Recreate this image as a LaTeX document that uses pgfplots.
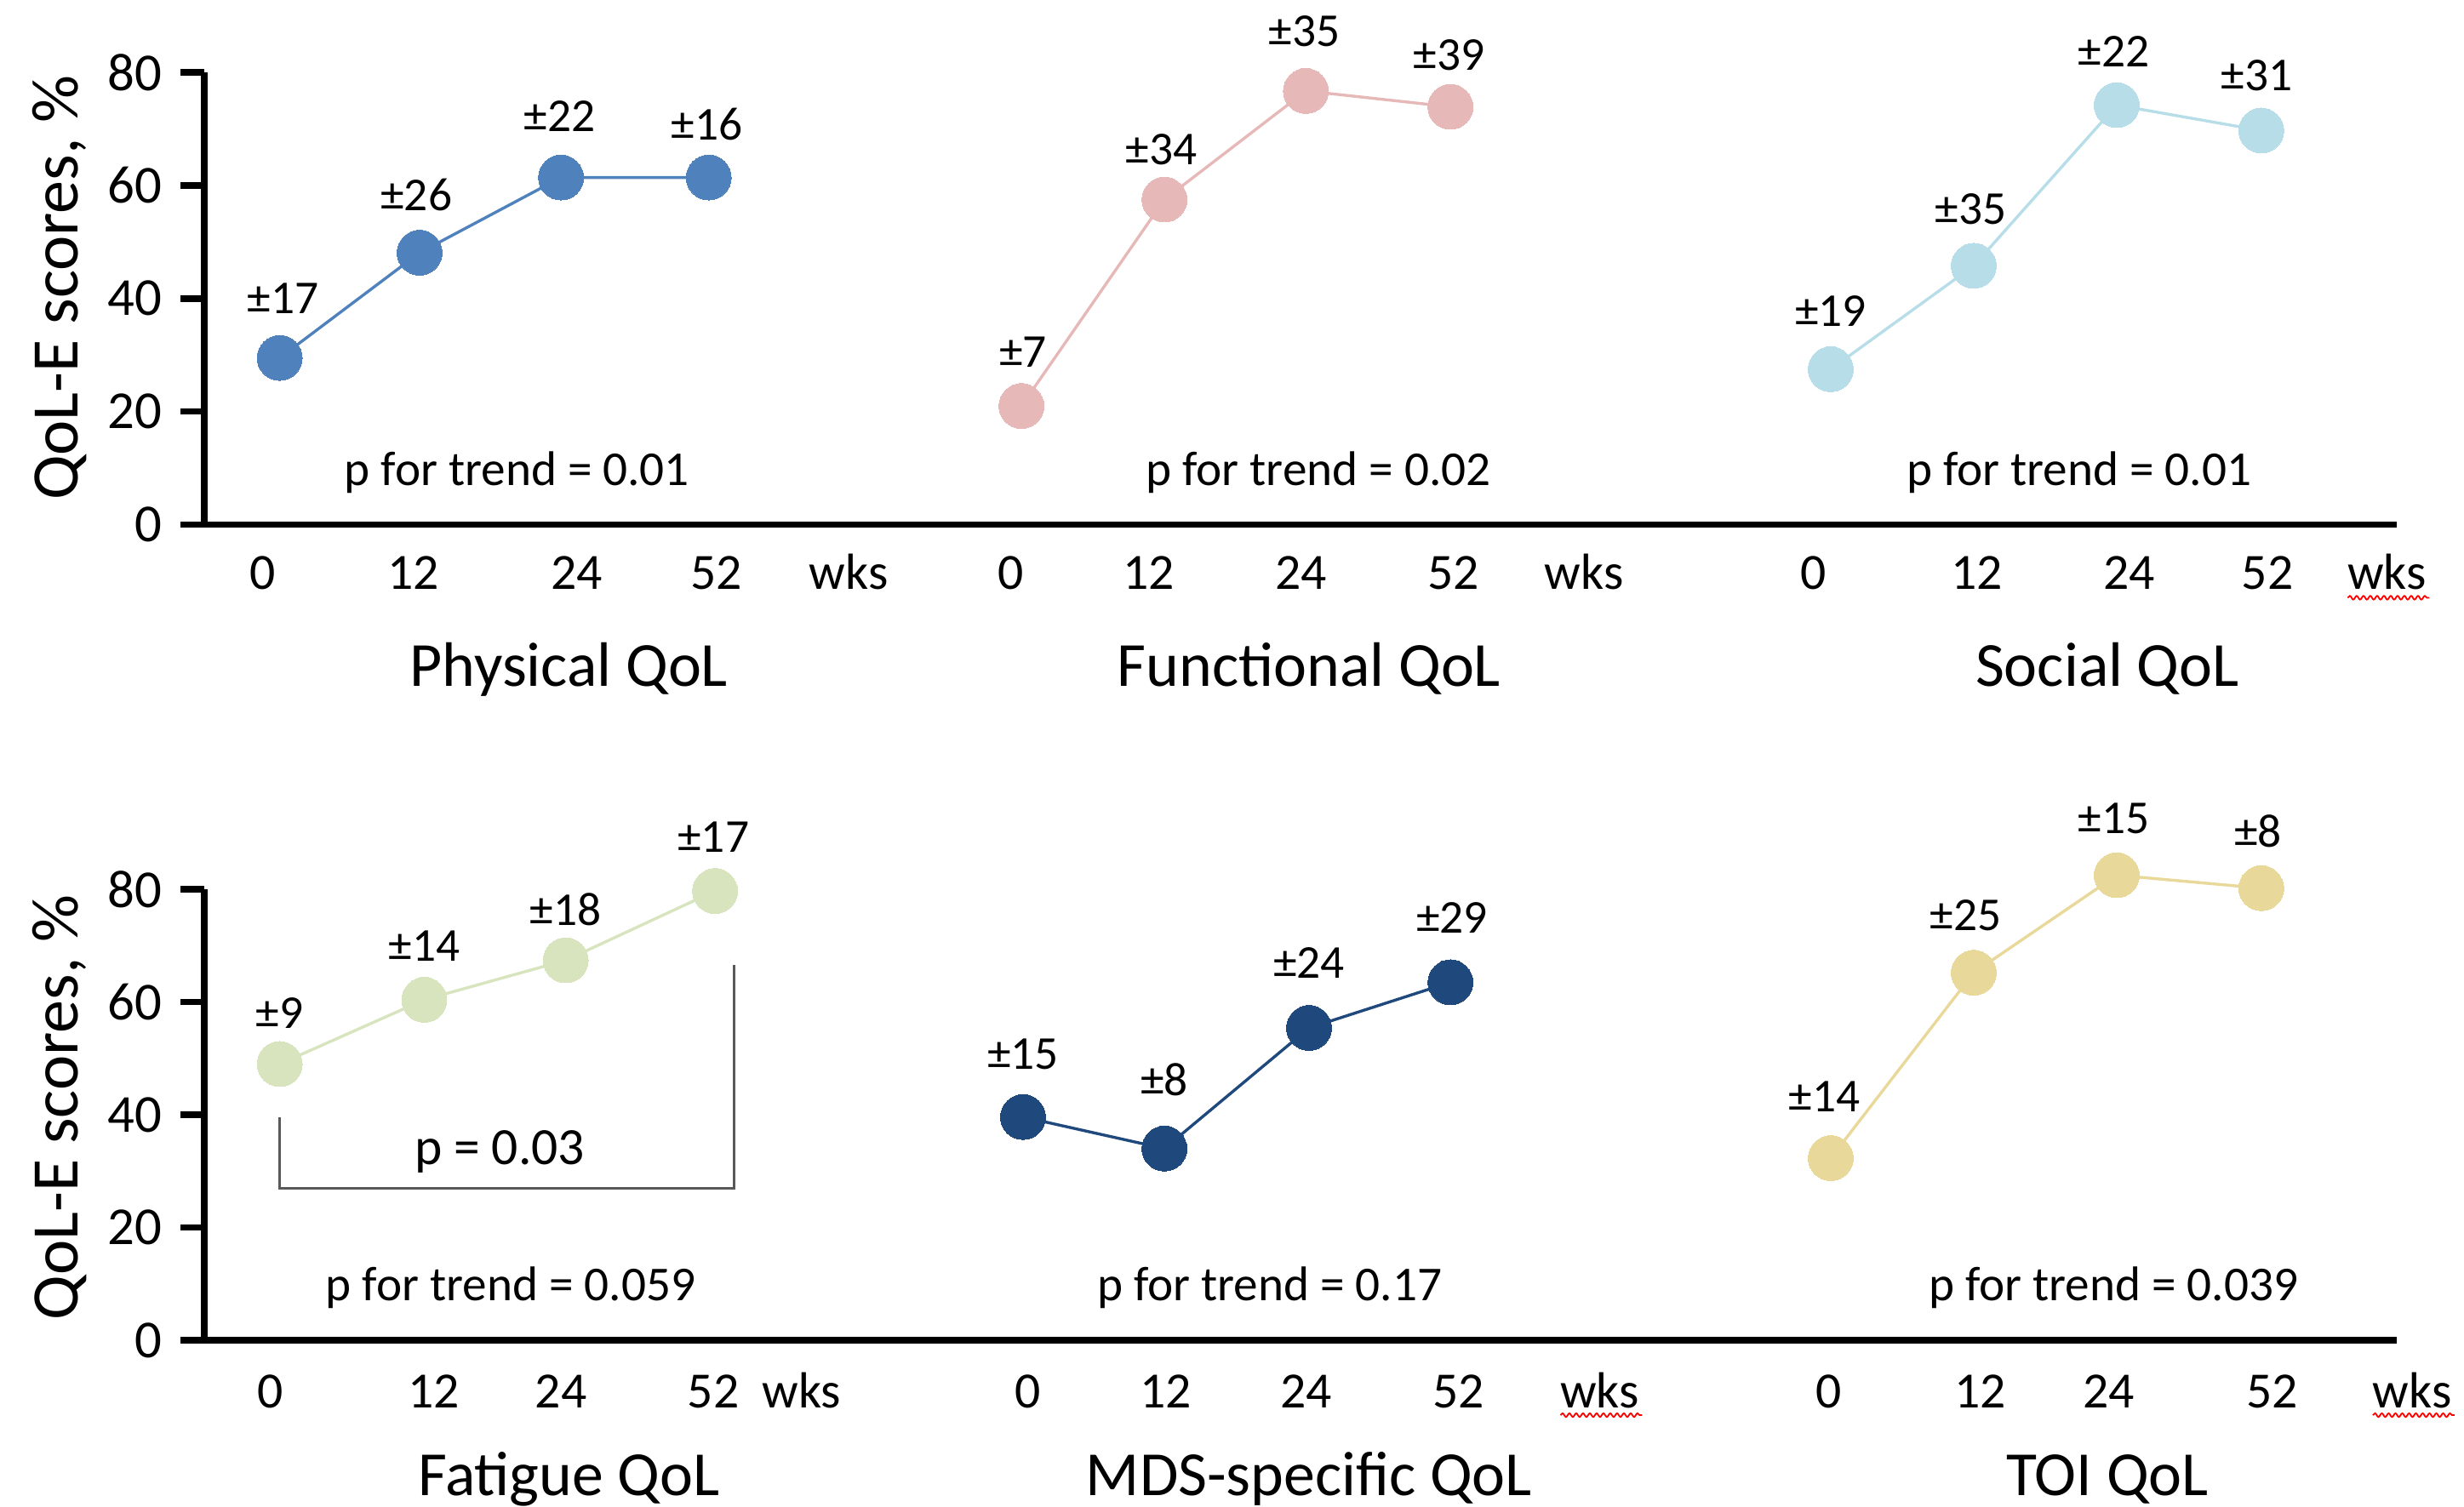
\documentclass[border=0pt]{standalone}
\usepackage{pgfplots}
\pgfplotsset{compat=1.18}
\usepackage{fontspec}
\setmainfont{Carlito}
\usetikzlibrary{decorations.pathmorphing}
\definecolor{cPhys}{RGB}{79,129,189}
\definecolor{cFunc}{RGB}{230,185,184}
\definecolor{cSoc}{RGB}{183,222,232}
\definecolor{cFat}{RGB}{215,228,189}
\definecolor{cMDS}{RGB}{31,73,125}
\definecolor{cTOI}{RGB}{232,216,154}
\definecolor{cBr}{RGB}{89,89,89}
\pgfplotsset{
  rowaxis/.style={
    scale only axis, width=418.5pt,
    xmin=130, xmax=1525, ymin=0, ymax=80,
    axis x line*=bottom, axis y line*=left,
    axis line style={line width=1.2pt,-,black},
    xtick=\empty, ytick={0,20,40,60,80},
    tick align=outside, major tick length=4.5pt,
    tick style={line width=1.2pt,black},
    /pgf/number format/assume math mode=true,
    yticklabel style={font=\fontsize{10.2}{12}\selectfont, black},
    clip=false,
  },
  ser/.style={color=#1, line width=0.55pt, mark=*, mark size=4.3pt, mark options={fill=#1, draw=#1, line width=0pt}},
}
\begin{document}
\begin{tikzpicture}
\path[use as bounding box] (0,0) rectangle (470.4pt,-287.7pt);
% ---------------- top row ----------------
\begin{axis}[rowaxis, at={(39pt,-100.2pt)}, anchor=south west, height=86.4pt]
\addplot[ser=cPhys] coordinates {(178,29.5) (267,48.1) (357,61.4) (451,61.4)};
\addplot[ser=cFunc] coordinates {(650,21.0) (741,57.5) (831,76.7) (923,73.9)};
\addplot[ser=cSoc] coordinates {(1165,27.5) (1256,45.8) (1347,74.2) (1439,69.7)};
\begin{scope}[every node/.style={font=\fontsize{9}{10}\selectfont, anchor=center}]
\node at (axis cs:180,40.0) {±17};
\node at (axis cs:265,58.3) {±26};
\node at (axis cs:356,72.2) {±22};
\node at (axis cs:450,70.8) {±16};
\node at (axis cs:651,30.6) {±7};
\node at (axis cs:739,66.4) {±34};
\node at (axis cs:830,87.2) {±35};
\node at (axis cs:922,83.1) {±39};
\node at (axis cs:1165,37.8) {±19};
\node at (axis cs:1254,55.8) {±35};
\node at (axis cs:1345,83.6) {±22};
\node at (axis cs:1436,79.4) {±31};
\end{scope}
\begin{scope}[every node/.style={font=\fontsize{9.3}{10}\selectfont, anchor=base}]
\node at (axis cs:329,6.9) {p for trend = 0.01};
\node at (axis cs:839,6.9) {p for trend = 0.02};
\node at (axis cs:1323,6.9) {p for trend = 0.01};
\end{scope}
\begin{scope}[every node/.style={font=\fontsize{9.7}{11}\selectfont, anchor=base}]
\node at (axis cs:167,-11.4) {0};
\node at (axis cs:263,-11.4) {12};
\node at (axis cs:367,-11.4) {24};
\node at (axis cs:456,-11.4) {52};
\node at (axis cs:540,-11.4) {wks};
\node at (axis cs:643,-11.4) {0};
\node at (axis cs:731,-11.4) {12};
\node at (axis cs:828,-11.4) {24};
\node at (axis cs:925,-11.4) {52};
\node at (axis cs:1008,-11.4) {wks};
\node at (axis cs:1154,-11.4) {0};
\node at (axis cs:1258,-11.4) {12};
\node at (axis cs:1355,-11.4) {24};
\node at (axis cs:1443,-11.4) {52};
\node at (axis cs:1519,-11.4) {wks};
\end{scope}
\draw[red, line width=0.3pt, decorate, decoration={snake, amplitude=0.35pt, segment length=1.3pt}] (axis cs:1494,-12.9) -- (axis cs:1546,-12.9);
\begin{scope}[every node/.style={font=\fontsize{12}{14}\selectfont, anchor=base}]
\node at (axis cs:362,-28.6) {Physical QoL};
\node at (axis cs:833,-28.6) {Functional QoL};
\node at (axis cs:1341,-28.6) {Social QoL};
\end{scope}
\node[rotate=90, anchor=center, font=\fontsize{12.7}{14}\selectfont] at (axis cs:38,41.9) {QoL-E scores, \%};
\end{axis}
% ---------------- bottom row ----------------
\begin{axis}[rowaxis, at={(39pt,-255.9pt)}, anchor=south west, height=86.1pt]
\addplot[cBr, line width=0.5pt] coordinates {(178,39.6) (178,27.0) (467,27.0) (467,66.6)};
\addplot[ser=cFat] coordinates {(178,49.0) (270,60.4) (360,67.4) (455,79.7)};
\addplot[ser=cMDS] coordinates {(651,39.6) (741,34.0) (833,55.4) (923,63.5)};
\addplot[ser=cTOI] coordinates {(1165,32.3) (1256,65.2) (1347,82.5) (1439,80.2)};
\begin{scope}[every node/.style={font=\fontsize{9}{10}\selectfont, anchor=center}]
\node at (axis cs:178,58.0) {±9};
\node at (axis cs:270,70.0) {±14};
\node at (axis cs:360,76.4) {±18};
\node at (axis cs:454,89.2) {±17};
\node at (axis cs:651,50.7) {±15};
\node at (axis cs:741,46.3) {±8};
\node at (axis cs:833,66.9) {±24};
\node at (axis cs:924,75.0) {±29};
\node at (axis cs:1161,43.2) {±14};
\node at (axis cs:1251,75.3) {±25};
\node at (axis cs:1345,92.5) {±15};
\node at (axis cs:1437,90.3) {±8};
\end{scope}
\node[anchor=base, font=\fontsize{10}{12}\selectfont] at (axis cs:318,31.2) {p = 0.03};
\begin{scope}[every node/.style={font=\fontsize{9.3}{10}\selectfont, anchor=base}]
\node at (axis cs:325,7.0) {p for trend = 0.059};
\node at (axis cs:808,7.0) {p for trend = 0.17};
\node at (axis cs:1345,7.0) {p for trend = 0.039};
\end{scope}
\begin{scope}[every node/.style={font=\fontsize{9.7}{11}\selectfont, anchor=base}]
\node at (axis cs:172,-12.0) {0};
\node at (axis cs:276,-12.0) {12};
\node at (axis cs:357,-12.0) {24};
\node at (axis cs:454,-12.0) {52};
\node at (axis cs:510,-12.0) {wks};
\node at (axis cs:654,-12.0) {0};
\node at (axis cs:742,-12.0) {12};
\node at (axis cs:831,-12.0) {24};
\node at (axis cs:928,-12.0) {52};
\node at (axis cs:1018,-12.0) {wks};
\node at (axis cs:1164,-12.0) {0};
\node at (axis cs:1260,-12.0) {12};
\node at (axis cs:1342,-12.0) {24};
\node at (axis cs:1446,-12.0) {52};
\node at (axis cs:1535,-12.0) {wks};
\end{scope}
\draw[red, line width=0.3pt, decorate, decoration={snake, amplitude=0.35pt, segment length=1.3pt}] (axis cs:993,-13.3) -- (axis cs:1045,-13.3);
\draw[red, line width=0.3pt, decorate, decoration={snake, amplitude=0.35pt, segment length=1.3pt}] (axis cs:1510,-13.3) -- (axis cs:1562,-13.3);
\begin{scope}[every node/.style={font=\fontsize{12}{14}\selectfont, anchor=base}]
\node at (axis cs:362,-27.6) {Fatigue QoL};
\node at (axis cs:833,-27.6) {MDS-specific QoL};
\node at (axis cs:1341,-27.6) {TOI QoL};
\end{scope}
\node[rotate=90, anchor=center, font=\fontsize{12.7}{14}\selectfont] at (axis cs:38,41.3) {QoL-E scores, \%};
\end{axis}
\end{tikzpicture}
\end{document}
